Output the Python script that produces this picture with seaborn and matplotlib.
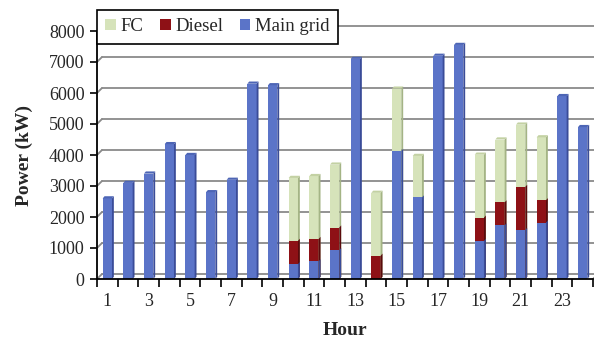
import numpy as np
import pandas as pd
import matplotlib
matplotlib.use("Agg")
import matplotlib.pyplot as plt
from matplotlib.patches import Polygon, Patch
from matplotlib.transforms import ScaledTranslation
import seaborn as sns

# Hourly power supplied by each source (kW)
hours = list(range(1, 25))
main_grid = [2600, 3100, 3400, 4350, 4000, 2800, 3200, 6300, 6250, 480, 570, 930,
             7100, 0, 4130, 2630, 7200, 7550, 1230, 1730, 1580, 1820, 5900, 4900]
diesel = [0, 0, 0, 0, 0, 0, 0, 0, 0, 750, 720, 730,
          0, 750, 0, 0, 0, 0, 750, 740, 1390, 720, 0, 0]
fc = [0, 0, 0, 0, 0, 0, 0, 0, 0, 2030, 2030, 2030,
      0, 2030, 2010, 1340, 0, 0, 2030, 2030, 2010, 2030, 0, 0]

series_names = ["FC", "Diesel", "Main grid"]
face_colors = {"FC": "#D6E3BA", "Diesel": "#8E1116", "Main grid": "#5B74C8"}
side_colors = {"FC": "#A4B485", "Diesel": "#5A0A0D", "Main grid": "#3A4C98"}
cap_colors = {"FC": "#C3D1A3", "Diesel": "#741015", "Main grid": "#4D65B5"}

df = pd.DataFrame({"hour": [str(h) for h in hours],
                   "Main grid": main_grid, "Diesel": diesel, "FC": fc})
df["grid_diesel"] = df["Main grid"] + df["Diesel"]
df["total"] = df["grid_diesel"] + df["FC"]

sns.set_theme(style="white")
plt.rcParams["font.family"] = ["Liberation Serif", "DejaVu Serif"]

fig = plt.figure(figsize=(5.94, 3.43), dpi=100)
ax = fig.add_axes([97 / 594, 1 - 279 / 343, 496 / 594, 248 / 343])

bar_w = 0.45
layers = [("total", "FC", fc), ("grid_diesel", "Diesel", diesel),
          ("Main grid", "Main grid", main_grid)]
layer_patches = []
for col, name, seg in layers:
    n_before = len(ax.patches)
    sns.barplot(data=df, x="hour", y=col, color=face_colors[name], saturation=1,
                width=bar_w, ax=ax, zorder=3, linewidth=0)
    layer_patches.append((name, seg, ax.patches[n_before:]))

ax.set_xlim(-0.5, 23.5)
ax.set_ylim(0, 8000)

# side faces of the columns (depth in data units); only where a segment exists
dx, dy = 0.09, 70
for k, (name, seg, patches) in enumerate(layer_patches):
    for p, s in zip(patches, seg):
        h = p.get_height()
        if s <= 0 or h <= 0:
            continue
        x1 = p.get_x() + p.get_width()
        side = Polygon([(x1, 0), (x1 + dx, dy), (x1 + dx, h + dy), (x1, h)],
                       closed=True, facecolor=side_colors[name], edgecolor="none",
                       zorder=3 + k * 0.1)
        ax.add_patch(side)

# top caps on the full stacks
top_names = ["FC" if f > 0 else ("Diesel" if d > 0 else "Main grid")
             for f, d in zip(fc, diesel)]
for p, name in zip(layer_patches[0][2], top_names):
    h = p.get_height()
    x0 = p.get_x()
    x1 = x0 + p.get_width()
    cap = Polygon([(x0, h), (x0 + dx, h + dy), (x1 + dx, h + dy), (x1, h)],
                  closed=True, facecolor=cap_colors[name], edgecolor="none", zorder=4)
    ax.add_patch(cap)

# back-wall gridlines, joined to the value axis by short diagonals
grid_col = "#8A8A8A"
off_px = 5
shift = ScaledTranslation(off_px / 100, off_px / 100, fig.dpi_scale_trans)
ytick_vals = list(range(0, 8001, 1000))
inv = ax.transData.inverted()
for v in ytick_vals:
    ax.plot([0, 1.02], [v, v], transform=ax.get_yaxis_transform() + shift,
            color=grid_col, lw=1.3, zorder=1, clip_on=False)
    p0 = ax.transData.transform((-0.5, v))
    a = inv.transform(p0)
    b = inv.transform(p0 + np.array([off_px, off_px]))
    ax.plot([a[0], b[0]], [a[1], b[1]], color=grid_col, lw=1.3, zorder=1, clip_on=False)
# right end of the floor
p0 = ax.transData.transform((23.5, 0))
a = inv.transform(p0)
b = inv.transform(p0 + np.array([off_px, off_px]))
ax.plot([a[0], b[0]], [a[1], b[1]], color=grid_col, lw=1.3, zorder=1, clip_on=False)

# axes styling
for s in ["top", "right"]:
    ax.spines[s].set_visible(False)
for s in ["left", "bottom"]:
    ax.spines[s].set_color("black")
    ax.spines[s].set_linewidth(1.3)
    ax.spines[s].set_zorder(5)

ax.set_yticks(ytick_vals)
ax.set_yticklabels([str(v) for v in ytick_vals], fontsize=13)
ax.tick_params(axis="y", direction="out", length=5, width=1.2, color="black",
               left=True, pad=4)

odd_pos = [h - 1 for h in hours if h % 2 == 1]
ax.set_xticks(odd_pos)
ax.set_xticklabels([str(h) for h in hours if h % 2 == 1], fontsize=13)
ax.set_xticks(np.arange(-0.5, 24, 1), minor=True)
ax.tick_params(axis="x", which="major", length=0, pad=10)
ax.tick_params(axis="x", which="minor", direction="out", length=6, width=1.2,
               color="black", bottom=True)

ax.set_xlabel("Hour", fontsize=14, fontweight="bold", labelpad=9)
ax.set_ylabel("Power (kW)", fontsize=14, fontweight="bold", labelpad=11)
ax.grid(False)

handles = [Patch(facecolor=face_colors[n], edgecolor="none", label=n) for n in series_names]
leg = fig.legend(handles=handles, loc="upper left",
                 bbox_to_anchor=(97 / 594, 1 - 10 / 343), ncol=3, fontsize=13.5,
                 frameon=True, fancybox=False, edgecolor="black", framealpha=1,
                 handlelength=0.55, handleheight=0.55, handletextpad=0.25,
                 columnspacing=0.9, borderpad=0.45, borderaxespad=0)
leg.get_frame().set_linewidth(1.2)

fig.savefig("out.png", dpi=100)
